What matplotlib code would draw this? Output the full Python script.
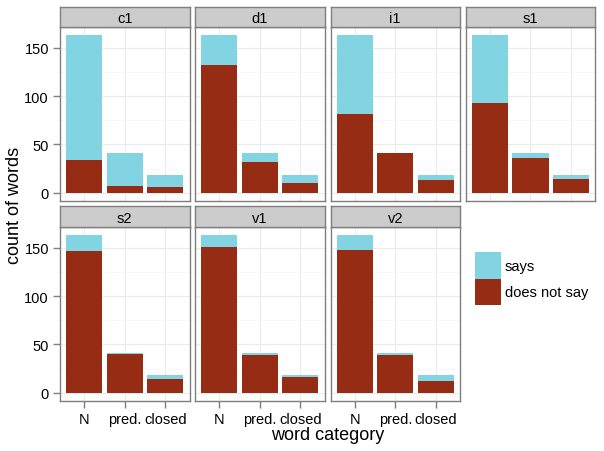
import numpy as np
import matplotlib
matplotlib.use("Agg")
import matplotlib.pyplot as plt
from matplotlib.patches import Patch

plt.rcParams['font.family'] = ['Liberation Sans', 'DejaVu Sans']

facets = ['c1', 'd1', 'i1', 's1', 's2', 'v1', 'v2']
categories = ['N', 'pred.', 'closed']
total = [163, 41, 18]
# "does not say" counts per facet (N, pred., closed)
not_say = {
    'c1': [34, 7, 6],
    'd1': [132, 32, 10],
    'i1': [82, 41, 13],
    's1': [93, 36, 14],
    's2': [147, 40, 14],
    'v1': [151, 39, 16],
    'v2': [148, 39, 12],
}
col_says = '#82D4E3'
col_not = '#972C15'

W, H = 604, 452
fig = plt.figure(figsize=(W / 100, H / 100), dpi=100)

lefts = [60, 195, 330.5, 465.7]
pw = 129.5
rows = [(28.3, 201.7, 8.3), (228.3, 401.7, 207.3)]

x = np.arange(1, 4)
for k, f in enumerate(facets):
    r, c = divmod(k, 4)
    top, bot, stop = rows[r]
    ax = fig.add_axes([lefts[c] / W, 1 - bot / H, pw / W, (bot - top) / H])
    ns = np.array(not_say[f])
    says = np.array(total) - ns
    ax.bar(x, ns, width=0.9, color=col_not, zorder=3)
    ax.bar(x, says, bottom=ns, width=0.9, color=col_says, zorder=3)
    ax.set_xlim(0.4, 3.6)
    ax.set_ylim(-8.15, 171.15)
    ax.set_yticks([0, 50, 100, 150])
    ax.set_yticks([25, 75, 125], minor=True)
    ax.set_xticks(x)
    ax.grid(True, which='major', color='#EBEBEB', lw=0.8, zorder=0)
    ax.grid(True, which='minor', axis='y', color='#F7F7F7', lw=0.6, zorder=0)
    for s in ax.spines.values():
        s.set_color('#7F7F7F')
        s.set_linewidth(1.0)
    ax.tick_params(which='major', length=5, color='#7F7F7F', width=1, labelsize=10.5, pad=3)
    ax.tick_params(which='minor', length=0)
    if c == 0:
        ax.set_yticklabels(['0', '50', '100', '150'])
    else:
        ax.tick_params(axis='y', length=0, labelleft=False)
    if r == 1:
        ax.set_xticklabels(categories)
    else:
        ax.tick_params(axis='x', length=0, labelbottom=False)
    # strip
    sax = fig.add_axes([lefts[c] / W, 1 - top / H, pw / W, (top - stop) / H])
    sax.set_facecolor('#CCCCCC')
    sax.set_xticks([])
    sax.set_yticks([])
    for s in sax.spines.values():
        s.set_color('#7F7F7F')
        s.set_linewidth(1.0)
    sax.text(0.5, 0.45, f, ha='center', va='center', fontsize=10.5, transform=sax.transAxes)

fig.text(15 / W, 1 - 205 / H, 'count of words', rotation=90, ha='center', va='center', fontsize=13)
fig.text(328 / W, 1 - 436 / H, 'word category', ha='center', va='center', fontsize=13)

handles = [Patch(facecolor=col_says, label='says'), Patch(facecolor=col_not, label='does not say')]
fig.legend(handles=handles, loc='upper left', bbox_to_anchor=(474 / W, 1 - 252 / H),
           frameon=False, fontsize=10.5, handlelength=1.75, handleheight=2.4,
           handletextpad=0.25, labelspacing=0.0, borderaxespad=0, borderpad=0.1)

fig.savefig('out.png', dpi=100)
